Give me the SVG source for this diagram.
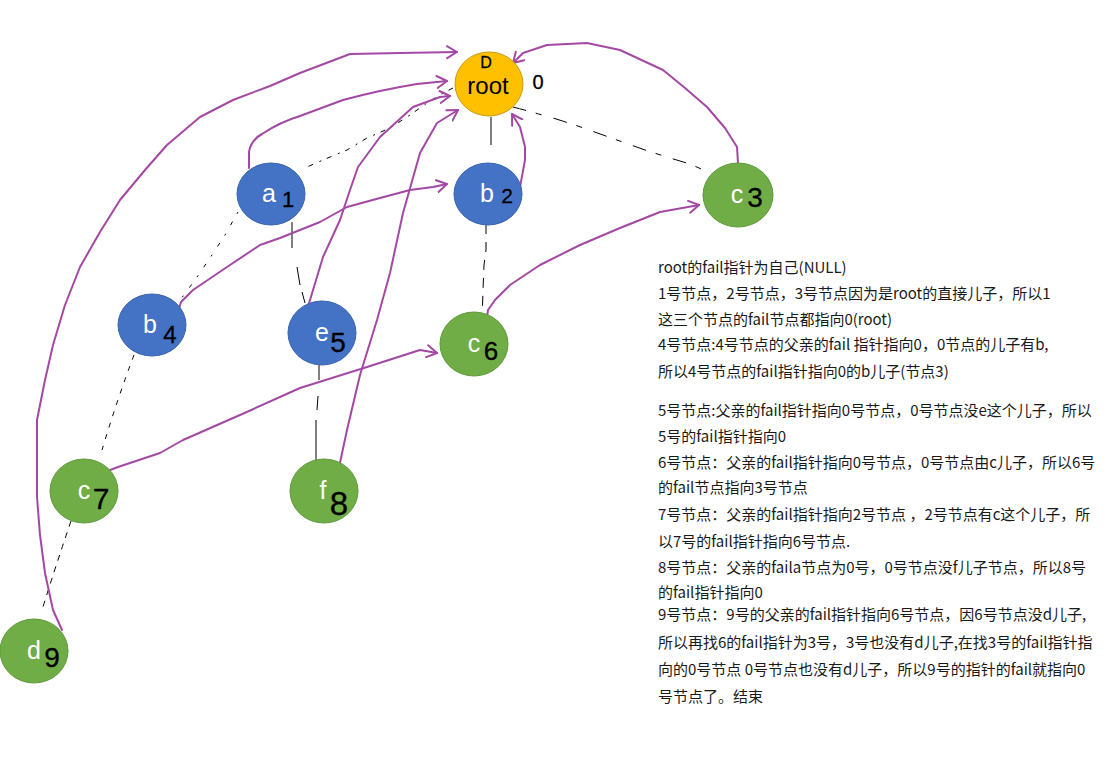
<svg xmlns="http://www.w3.org/2000/svg" width="1120" height="772" viewBox="0 0 1120 772">
<defs>
<style>
.blue{fill:#4472C4;stroke:#3A64B0;stroke-width:1}
.green{fill:#70AD47;stroke:#5E9A3A;stroke-width:1}
.orange{fill:#FFC000;stroke:#C99A10;stroke-width:1}
.lbl{font-family:"Liberation Sans","DejaVu Sans",sans-serif;font-size:25px;fill:#ffffff;text-anchor:middle}
.lblk{font-family:"Liberation Sans","DejaVu Sans",sans-serif;font-size:24px;fill:#000000;text-anchor:middle}
.hand{font-family:"Liberation Sans","DejaVu Sans",sans-serif;fill:#000;stroke:#000;stroke-width:0.3;text-anchor:middle}
.tree{fill:none;stroke:#000;stroke-width:1}
.fail{fill:none;stroke:#A349A4;stroke-width:2;stroke-linejoin:round;stroke-linecap:round;marker-end:url(#arr)}
.note{font-family:"Noto Sans CJK SC","Noto Sans",sans-serif;font-size:15px;fill:#1a1a1a}
</style>
<marker id="arr" markerUnits="userSpaceOnUse" markerWidth="20" markerHeight="20" refX="11" refY="7" orient="auto">
<path d="M1,1 L11,7 L1,13" fill="none" stroke="#A349A4" stroke-width="2" stroke-linejoin="round" stroke-linecap="round"/>
</marker>
</defs>
<rect width="1120" height="772" fill="#ffffff"/>

<g id="tree-edges">
<path class="tree" stroke-dasharray="5 6 2 7" d="M453,88 L443,93 L427,103 L410,115 L390,128 L367,138 L347,150 L323,160 L307,167"/>
<path class="tree" d="M491,117 L491,145 M490,165 L490,171"/>
<path class="tree" stroke-dasharray="14 10 6 12" d="M513,107 Q532,112 553,118 L575,125 L617,140 L645,150 L670,158 L690,164 L717,176"/>
<path class="tree" stroke-dasharray="2 9 4 10" d="M238,212 L225,235 L210,258 L195,280 L178,303"/>
<path class="tree" d="M292,222 L292,248 M297,267 L300,285 M302,292 L305,303"/>
<path class="tree" stroke-dasharray="10 8" d="M486,224 L486,250 L484,265 L483,290 L482,322"/>
<path class="tree" stroke-dasharray="5 7" d="M134,355 Q117,400 102,450"/>
<path class="tree" d="M319,365 L319,380 M318,396 L317,410 M316,420 L316,470"/>
<path class="tree" stroke-dasharray="6 6" d="M71,521 Q56,565 42,610"/>
</g>

<g id="fail-links">
<path class="fail" d="M249,168 L249,152 Q251,140 262,134 Q280,122 300,116 L343,100 Q380,90 417,84 L447,81"/>
<path class="fail" d="M62,630 L53,610 L45,573 L40,535 L37,497 L37,420 L45,380 L53,345 L65,305 L80,267 L100,232 L120,200 L145,170 L167,145 L200,117 L233,100 L270,86 L300,73 L350,54 L400,53 L457,52"/>
<path class="fail" d="M178,312 L181,302 L193,290 L227,267 L260,245 L280,238 L320,222 L347,207 L380,198 L410,190 L433,187 L447,184"/>
<path class="fail" d="M307,310 L310,300 L323,257 L340,220 L350,190 L358,167 L380,137 L413,107 L440,97 L450,96"/>
<path class="fail" d="M338,472 L347,430 L360,375 L377,320 L390,273 L403,213 L420,153 L437,123 L458,110"/>
<path class="fail" d="M520,187 L525,160 L525,147 L520,127 L512,114"/>
<path class="fail" d="M738,163 L737,147 L725,128 L707,107 L685,88 L663,70 L620,50 L587,43 L547,45 L523,53 L513,63"/>
<path class="fail" d="M486,325 L488,310 L495,300 L510,285 L540,265 L580,245 L620,228 L660,212 L699,205"/>
<path class="fail" d="M105,480 L105,472 L118,467 L160,453 L183,440 L240,415 L300,388 L367,367 L420,350 L437,353"/>
</g>

<g id="node-root">
<ellipse class="orange" cx="489" cy="84" rx="34" ry="32"/>
<text class="lblk" x="488" y="94">root</text>
<text class="hand" x="486" y="68" font-size="16">D</text>
<text class="hand" x="538" y="89" font-size="20">0</text>
</g>
<g id="node-a1">
<ellipse class="blue" cx="271" cy="194" rx="34" ry="31"/>
<text class="lbl" x="269" y="202">a</text>
<text class="hand" x="288" y="207" font-size="22">1</text>
</g>
<g id="node-b2">
<ellipse class="blue" cx="488" cy="194" rx="34" ry="31"/>
<text class="lbl" x="487" y="202">b</text>
<text class="hand" x="507" y="203" font-size="21">2</text>
</g>
<g id="node-c3">
<ellipse class="green" cx="738" cy="195" rx="35" ry="32"/>
<text class="lbl" x="737" y="203">c</text>
<text class="hand" x="755" y="207" font-size="28">3</text>
</g>
<g id="node-b4">
<ellipse class="blue" cx="152" cy="325" rx="34" ry="31"/>
<text class="lbl" x="150" y="333">b</text>
<text class="hand" x="170" y="343" font-size="24">4</text>
</g>
<g id="node-e5">
<ellipse class="blue" cx="322" cy="333" rx="34" ry="32"/>
<text class="lbl" x="322" y="341">e</text>
<text class="hand" x="338" y="352" font-size="28">5</text>
</g>
<g id="node-c6">
<ellipse class="green" cx="474" cy="344" rx="34" ry="32"/>
<text class="lbl" x="474" y="352">c</text>
<text class="hand" x="491" y="360" font-size="26">6</text>
</g>
<g id="node-c7">
<ellipse class="green" cx="84" cy="491" rx="34" ry="32"/>
<text class="lbl" x="84" y="499">c</text>
<text class="hand" x="101" y="509" font-size="30">7</text>
</g>
<g id="node-f8">
<ellipse class="green" cx="324" cy="491" rx="34" ry="32"/>
<text class="lbl" x="323" y="499">f</text>
<text class="hand" x="339" y="515" font-size="33">8</text>
</g>
<g id="node-d9">
<ellipse class="green" cx="34" cy="651" rx="34" ry="32"/>
<text class="lbl" x="34" y="659">d</text>
<text class="hand" x="52" y="667" font-size="28">9</text>
</g>

<g id="notes">
<text class="note" x="658" y="273">root的fail指针为自己(NULL)</text>
<text class="note" x="658" y="299">1号节点，2号节点，3号节点因为是root的直接儿子，所以1</text>
<text class="note" x="658" y="325">这三个节点的fail节点都指向0(root)</text>
<text class="note" x="658" y="350">4号节点:4号节点的父亲的fail 指针指向0，0节点的儿子有b,</text>
<text class="note" x="658" y="377">所以4号节点的fail指针指向0的b儿子(节点3)</text>
<text class="note" x="658" y="416">5号节点:父亲的fail指针指向0号节点，0号节点没e这个儿子，所以</text>
<text class="note" x="658" y="442">5号的fail指针指向0</text>
<text class="note" x="658" y="468">6号节点：父亲的fail指针指向0号节点，0号节点由c儿子，所以6号</text>
<text class="note" x="658" y="493">的fail节点指向3号节点</text>
<text class="note" x="658" y="520">7号节点：父亲的fail指针指向2号节点 ，2号节点有c这个儿子，所</text>
<text class="note" x="658" y="547">以7号的fail指针指向6号节点.</text>
<text class="note" x="658" y="573">8号节点：父亲的faila节点为0号，0号节点没f儿子节点，所以8号</text>
<text class="note" x="658" y="598">的fail指针指向0</text>
<text class="note" x="658" y="620">9号节点：9号的父亲的fail指针指向6号节点，因6号节点没d儿子,</text>
<text class="note" x="658" y="648">所以再找6的fail指针为3号，3号也没有d儿子,在找3号的fail指针指</text>
<text class="note" x="658" y="675">向的0号节点 0号节点也没有d儿子，所以9号的指针的fail就指向0</text>
<text class="note" x="658" y="702">号节点了。结束</text>
</g>
</svg>
